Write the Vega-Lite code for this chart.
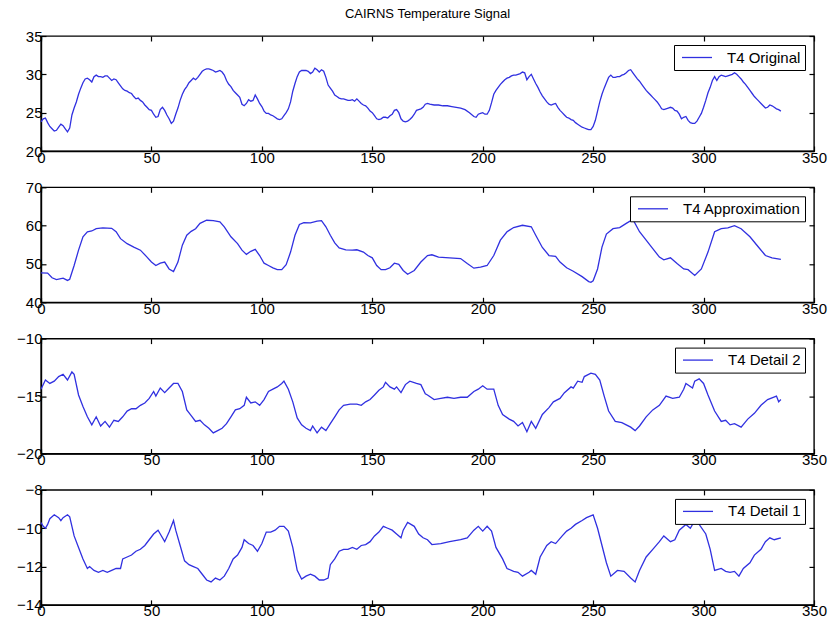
{
"$schema": "https://vega.github.io/schema/vega-lite/v6.json",
"background": "white",
"padding": {"left": 15, "top": 7, "right": 10, "bottom": 0},
"spacing": 13.3,
"config": {
  "font": "Liberation Sans",
  "view": {"stroke": "#000", "strokeWidth": 1.4},
  "axis": {"labelFont": "Liberation Sans", "labelFontSize": 15, "labelColor": "#000", "domainColor": "#000", "domainWidth": 1.4, "tickColor": "#000", "tickSize": -5, "tickWidth": 1.2, "grid": false, "labelPadding": 4, "labelFlush": false, "labelOverlap": false, "title": null},
  "legend": {"labelFont": "Liberation Sans", "labelFontSize": 15, "labelColor": "#000", "strokeColor": "#000", "fillColor": "white", "padding": 4, "offset": 9, "symbolType": "M-2,0H2", "symbolSize": 225, "symbolOffset": 10.5, "symbolStrokeWidth": 1.4, "labelOffset": 21.5, "orient": "top-right", "title": null},
  "line": {"strokeWidth": 1.3}
},
"resolve": {"scale": {"color": "independent", "y": "independent"}},
"datasets": {
"orig": [{"t":0,"v":23.8},{"t":1,"v":24.2},{"t":2,"v":24.3},{"t":3,"v":23.7},{"t":4,"v":23.2},{"t":5,"v":22.9},{"t":6,"v":22.6},{"t":7,"v":22.7},{"t":8,"v":23.1},{"t":9,"v":23.5},{"t":10,"v":23.3},{"t":11,"v":22.9},{"t":12,"v":22.5},{"t":13,"v":23.0},{"t":14,"v":24.7},{"t":15,"v":25.6},{"t":16,"v":26.4},{"t":17,"v":27.4},{"t":18,"v":28.2},{"t":19,"v":28.9},{"t":20,"v":29.4},{"t":21,"v":29.5},{"t":22,"v":29.3},{"t":23,"v":29.0},{"t":24,"v":29.7},{"t":25,"v":29.9},{"t":26,"v":29.7},{"t":27,"v":29.7},{"t":28,"v":29.6},{"t":29,"v":29.8},{"t":30,"v":29.8},{"t":31,"v":29.5},{"t":32,"v":29.2},{"t":33,"v":29.4},{"t":34,"v":29.3},{"t":35,"v":28.9},{"t":36,"v":28.5},{"t":37,"v":28.1},{"t":38,"v":27.9},{"t":39,"v":27.8},{"t":40,"v":27.6},{"t":41,"v":27.5},{"t":42,"v":27.1},{"t":43,"v":26.8},{"t":44,"v":26.9},{"t":45,"v":26.6},{"t":46,"v":26.4},{"t":47,"v":26.0},{"t":48,"v":25.7},{"t":49,"v":25.4},{"t":50,"v":25.3},{"t":51,"v":24.8},{"t":52,"v":24.4},{"t":53,"v":24.5},{"t":54,"v":25.4},{"t":55,"v":25.7},{"t":56,"v":25.3},{"t":57,"v":24.7},{"t":58,"v":24.2},{"t":59,"v":23.6},{"t":60,"v":23.9},{"t":61,"v":24.8},{"t":62,"v":25.6},{"t":63,"v":26.6},{"t":64,"v":27.4},{"t":65,"v":28.0},{"t":66,"v":28.4},{"t":67,"v":28.9},{"t":68,"v":29.2},{"t":69,"v":29.5},{"t":70,"v":29.3},{"t":71,"v":29.6},{"t":72,"v":30.0},{"t":73,"v":30.4},{"t":74,"v":30.6},{"t":75,"v":30.7},{"t":76,"v":30.7},{"t":77,"v":30.6},{"t":78,"v":30.5},{"t":79,"v":30.3},{"t":80,"v":30.4},{"t":81,"v":30.5},{"t":82,"v":30.3},{"t":83,"v":29.9},{"t":84,"v":29.2},{"t":85,"v":28.7},{"t":86,"v":28.4},{"t":87,"v":27.9},{"t":88,"v":27.6},{"t":89,"v":27.3},{"t":90,"v":27.0},{"t":91,"v":26.1},{"t":92,"v":25.9},{"t":93,"v":26.2},{"t":94,"v":26.7},{"t":95,"v":26.5},{"t":96,"v":26.6},{"t":97,"v":27.3},{"t":98,"v":26.8},{"t":99,"v":26.2},{"t":100,"v":25.8},{"t":101,"v":25.2},{"t":102,"v":24.9},{"t":103,"v":24.9},{"t":104,"v":24.7},{"t":105,"v":24.6},{"t":106,"v":24.4},{"t":107,"v":24.2},{"t":108,"v":24.1},{"t":109,"v":24.2},{"t":110,"v":24.6},{"t":111,"v":25.0},{"t":112,"v":25.5},{"t":113,"v":26.4},{"t":114,"v":27.8},{"t":115,"v":28.8},{"t":116,"v":29.7},{"t":117,"v":30.3},{"t":118,"v":30.5},{"t":119,"v":30.5},{"t":120,"v":30.5},{"t":121,"v":30.4},{"t":122,"v":30.1},{"t":123,"v":30.3},{"t":124,"v":30.8},{"t":125,"v":30.6},{"t":126,"v":30.3},{"t":127,"v":30.6},{"t":128,"v":30.4},{"t":129,"v":29.6},{"t":130,"v":28.6},{"t":131,"v":28.2},{"t":132,"v":27.8},{"t":133,"v":27.3},{"t":134,"v":27.1},{"t":135,"v":26.9},{"t":136,"v":26.8},{"t":137,"v":26.8},{"t":138,"v":26.7},{"t":139,"v":26.6},{"t":140,"v":26.6},{"t":141,"v":26.7},{"t":142,"v":26.5},{"t":143,"v":26.8},{"t":144,"v":26.5},{"t":145,"v":26.2},{"t":146,"v":26.0},{"t":147,"v":25.9},{"t":148,"v":25.6},{"t":149,"v":25.2},{"t":150,"v":25.0},{"t":151,"v":24.6},{"t":152,"v":24.2},{"t":153,"v":24.1},{"t":154,"v":24.2},{"t":155,"v":24.4},{"t":156,"v":24.4},{"t":157,"v":24.3},{"t":158,"v":24.6},{"t":159,"v":24.8},{"t":160,"v":25.3},{"t":161,"v":25.4},{"t":162,"v":25.0},{"t":163,"v":24.2},{"t":164,"v":23.9},{"t":165,"v":23.8},{"t":166,"v":23.9},{"t":167,"v":24.1},{"t":168,"v":24.4},{"t":169,"v":24.8},{"t":170,"v":25.3},{"t":171,"v":25.4},{"t":172,"v":25.5},{"t":173,"v":25.7},{"t":174,"v":26.1},{"t":175,"v":26.2},{"t":176,"v":26.1},{"t":178,"v":26.0},{"t":180,"v":26.0},{"t":182,"v":25.9},{"t":184,"v":25.9},{"t":186,"v":25.8},{"t":188,"v":25.7},{"t":190,"v":25.6},{"t":192,"v":25.4},{"t":194,"v":25.0},{"t":196,"v":24.5},{"t":197,"v":24.4},{"t":198,"v":24.8},{"t":199,"v":24.9},{"t":200,"v":25.0},{"t":201,"v":24.8},{"t":202,"v":24.8},{"t":203,"v":25.3},{"t":204,"v":26.3},{"t":205,"v":27.4},{"t":206,"v":27.9},{"t":207,"v":28.3},{"t":208,"v":28.7},{"t":209,"v":29.0},{"t":210,"v":29.3},{"t":211,"v":29.5},{"t":212,"v":29.6},{"t":213,"v":29.8},{"t":214,"v":29.9},{"t":215,"v":29.9},{"t":216,"v":30.0},{"t":217,"v":30.1},{"t":218,"v":30.3},{"t":219,"v":30.2},{"t":220,"v":29.3},{"t":221,"v":29.7},{"t":222,"v":30.0},{"t":223,"v":29.4},{"t":224,"v":28.8},{"t":225,"v":28.3},{"t":226,"v":27.7},{"t":227,"v":27.2},{"t":228,"v":26.8},{"t":229,"v":26.4},{"t":230,"v":26.1},{"t":231,"v":26.0},{"t":232,"v":26.1},{"t":233,"v":26.2},{"t":234,"v":25.7},{"t":235,"v":25.3},{"t":236,"v":25.0},{"t":237,"v":24.7},{"t":238,"v":24.4},{"t":239,"v":24.3},{"t":240,"v":24.1},{"t":241,"v":24.0},{"t":242,"v":23.7},{"t":243,"v":23.5},{"t":244,"v":23.3},{"t":245,"v":23.1},{"t":246,"v":23.0},{"t":247,"v":22.9},{"t":248,"v":22.8},{"t":249,"v":22.8},{"t":250,"v":23.2},{"t":251,"v":24.0},{"t":252,"v":25.2},{"t":253,"v":26.4},{"t":254,"v":27.4},{"t":255,"v":28.2},{"t":256,"v":28.9},{"t":257,"v":29.6},{"t":258,"v":29.9},{"t":259,"v":29.6},{"t":260,"v":29.6},{"t":261,"v":29.7},{"t":262,"v":29.7},{"t":263,"v":29.9},{"t":264,"v":30.0},{"t":265,"v":30.2},{"t":266,"v":30.5},{"t":267,"v":30.6},{"t":268,"v":30.2},{"t":269,"v":29.8},{"t":270,"v":29.4},{"t":271,"v":29.1},{"t":272,"v":28.7},{"t":273,"v":28.3},{"t":274,"v":27.9},{"t":275,"v":27.6},{"t":276,"v":27.3},{"t":277,"v":27.0},{"t":278,"v":26.7},{"t":279,"v":26.4},{"t":280,"v":26.0},{"t":281,"v":25.5},{"t":282,"v":25.4},{"t":283,"v":25.5},{"t":284,"v":25.6},{"t":285,"v":25.7},{"t":286,"v":25.6},{"t":287,"v":25.3},{"t":288,"v":25.2},{"t":289,"v":24.8},{"t":290,"v":24.2},{"t":291,"v":24.4},{"t":292,"v":24.5},{"t":293,"v":24.0},{"t":294,"v":23.7},{"t":295,"v":23.6},{"t":296,"v":23.6},{"t":297,"v":23.9},{"t":298,"v":24.4},{"t":299,"v":24.9},{"t":300,"v":25.7},{"t":301,"v":26.6},{"t":302,"v":27.6},{"t":303,"v":28.3},{"t":304,"v":29.2},{"t":305,"v":29.7},{"t":306,"v":29.2},{"t":307,"v":29.7},{"t":308,"v":29.9},{"t":309,"v":29.8},{"t":310,"v":29.7},{"t":311,"v":29.8},{"t":312,"v":29.9},{"t":313,"v":30.0},{"t":314,"v":30.2},{"t":315,"v":30.0},{"t":316,"v":29.7},{"t":317,"v":29.4},{"t":318,"v":29.0},{"t":319,"v":28.7},{"t":320,"v":28.3},{"t":321,"v":27.9},{"t":322,"v":27.5},{"t":323,"v":27.1},{"t":324,"v":26.8},{"t":325,"v":26.5},{"t":326,"v":26.2},{"t":327,"v":25.9},{"t":328,"v":25.6},{"t":329,"v":25.7},{"t":330,"v":26.0},{"t":331,"v":25.9},{"t":332,"v":25.7},{"t":333,"v":25.5},{"t":334,"v":25.4},{"t":335,"v":25.2}],
"appr": [{"t":0,"v":47.7},{"t":3,"v":47.6},{"t":5,"v":46.4},{"t":7,"v":45.9},{"t":10,"v":46.3},{"t":12,"v":45.7},{"t":13,"v":46.0},{"t":15,"v":49.6},{"t":17,"v":53.6},{"t":19,"v":57.1},{"t":21,"v":58.4},{"t":23,"v":58.6},{"t":25,"v":59.2},{"t":28,"v":59.4},{"t":32,"v":59.3},{"t":34,"v":58.4},{"t":36,"v":56.6},{"t":39,"v":55.3},{"t":42,"v":54.4},{"t":45,"v":53.6},{"t":48,"v":51.8},{"t":50,"v":50.5},{"t":52,"v":49.6},{"t":54,"v":50.2},{"t":56,"v":50.5},{"t":58,"v":48.7},{"t":60,"v":48.0},{"t":62,"v":50.5},{"t":64,"v":54.9},{"t":66,"v":57.5},{"t":68,"v":58.5},{"t":70,"v":59.2},{"t":72,"v":60.6},{"t":75,"v":61.4},{"t":78,"v":61.3},{"t":81,"v":61.0},{"t":83,"v":59.7},{"t":86,"v":57.1},{"t":89,"v":55.3},{"t":91,"v":53.6},{"t":93,"v":52.5},{"t":95,"v":53.3},{"t":97,"v":53.8},{"t":99,"v":52.2},{"t":101,"v":50.2},{"t":103,"v":49.6},{"t":105,"v":49.0},{"t":107,"v":48.5},{"t":109,"v":48.5},{"t":111,"v":49.8},{"t":113,"v":53.1},{"t":115,"v":57.5},{"t":117,"v":60.3},{"t":119,"v":60.8},{"t":122,"v":60.7},{"t":125,"v":61.2},{"t":127,"v":61.3},{"t":129,"v":59.7},{"t":131,"v":57.5},{"t":133,"v":55.5},{"t":135,"v":54.2},{"t":138,"v":53.7},{"t":141,"v":53.6},{"t":143,"v":53.7},{"t":146,"v":53.1},{"t":148,"v":52.2},{"t":150,"v":51.6},{"t":152,"v":49.6},{"t":154,"v":48.5},{"t":156,"v":48.5},{"t":158,"v":49.0},{"t":160,"v":50.2},{"t":162,"v":49.9},{"t":164,"v":48.3},{"t":166,"v":47.3},{"t":169,"v":48.3},{"t":172,"v":50.5},{"t":175,"v":52.2},{"t":177,"v":52.4},{"t":180,"v":51.8},{"t":185,"v":51.6},{"t":190,"v":51.4},{"t":193,"v":50.1},{"t":196,"v":48.9},{"t":199,"v":49.2},{"t":202,"v":49.6},{"t":205,"v":52.2},{"t":208,"v":56.2},{"t":211,"v":58.4},{"t":214,"v":59.5},{"t":218,"v":60.1},{"t":222,"v":59.7},{"t":224,"v":57.5},{"t":227,"v":54.3},{"t":230,"v":52.2},{"t":233,"v":52.0},{"t":235,"v":50.5},{"t":238,"v":49.0},{"t":241,"v":48.1},{"t":245,"v":46.7},{"t":248,"v":45.4},{"t":249,"v":45.2},{"t":250,"v":45.6},{"t":252,"v":48.7},{"t":254,"v":54.4},{"t":256,"v":57.8},{"t":259,"v":59.2},{"t":262,"v":59.5},{"t":265,"v":60.6},{"t":268,"v":61.6},{"t":271,"v":58.4},{"t":274,"v":56.2},{"t":277,"v":54.0},{"t":280,"v":51.8},{"t":282,"v":51.1},{"t":285,"v":51.6},{"t":288,"v":50.1},{"t":291,"v":48.7},{"t":293,"v":48.5},{"t":296,"v":47.0},{"t":299,"v":48.7},{"t":302,"v":53.1},{"t":305,"v":58.4},{"t":308,"v":59.2},{"t":311,"v":59.4},{"t":314,"v":60.0},{"t":317,"v":59.2},{"t":321,"v":57.1},{"t":325,"v":54.3},{"t":328,"v":52.2},{"t":331,"v":51.6},{"t":335,"v":51.2}],
"d2": [{"t":0,"v":-14.4},{"t":2,"v":-13.6},{"t":4,"v":-13.9},{"t":6,"v":-13.7},{"t":8,"v":-13.3},{"t":10,"v":-13.1},{"t":12,"v":-13.6},{"t":14,"v":-12.9},{"t":15,"v":-13.1},{"t":17,"v":-14.9},{"t":19,"v":-15.9},{"t":21,"v":-16.8},{"t":23,"v":-17.5},{"t":25,"v":-16.8},{"t":27,"v":-17.6},{"t":29,"v":-17.2},{"t":31,"v":-17.7},{"t":33,"v":-17.1},{"t":35,"v":-17.2},{"t":37,"v":-16.8},{"t":39,"v":-16.3},{"t":41,"v":-16.1},{"t":43,"v":-16.1},{"t":45,"v":-15.8},{"t":47,"v":-15.6},{"t":49,"v":-15.2},{"t":51,"v":-14.6},{"t":52,"v":-15.0},{"t":54,"v":-14.3},{"t":56,"v":-14.7},{"t":58,"v":-14.3},{"t":60,"v":-13.9},{"t":62,"v":-13.9},{"t":64,"v":-14.6},{"t":66,"v":-16.2},{"t":68,"v":-16.7},{"t":70,"v":-17.2},{"t":72,"v":-17.1},{"t":74,"v":-17.5},{"t":76,"v":-17.8},{"t":78,"v":-18.2},{"t":80,"v":-18.0},{"t":82,"v":-17.8},{"t":84,"v":-17.4},{"t":86,"v":-16.8},{"t":88,"v":-16.2},{"t":90,"v":-16.1},{"t":92,"v":-15.8},{"t":93,"v":-15.1},{"t":95,"v":-15.6},{"t":97,"v":-15.5},{"t":99,"v":-15.8},{"t":101,"v":-15.3},{"t":103,"v":-14.6},{"t":105,"v":-14.4},{"t":107,"v":-14.2},{"t":109,"v":-13.9},{"t":110,"v":-13.7},{"t":112,"v":-14.4},{"t":114,"v":-15.5},{"t":116,"v":-16.9},{"t":118,"v":-17.5},{"t":120,"v":-17.8},{"t":122,"v":-18.0},{"t":123,"v":-17.6},{"t":125,"v":-18.2},{"t":127,"v":-17.7},{"t":129,"v":-18.0},{"t":131,"v":-17.4},{"t":133,"v":-16.8},{"t":135,"v":-16.2},{"t":137,"v":-15.8},{"t":140,"v":-15.7},{"t":143,"v":-15.7},{"t":145,"v":-15.8},{"t":147,"v":-15.5},{"t":149,"v":-15.3},{"t":151,"v":-14.9},{"t":153,"v":-14.5},{"t":155,"v":-14.2},{"t":156,"v":-13.8},{"t":158,"v":-14.2},{"t":160,"v":-14.4},{"t":161,"v":-14.2},{"t":163,"v":-14.7},{"t":165,"v":-14.0},{"t":167,"v":-13.7},{"t":170,"v":-13.9},{"t":172,"v":-14.0},{"t":174,"v":-14.8},{"t":175,"v":-14.9},{"t":178,"v":-15.3},{"t":181,"v":-15.2},{"t":184,"v":-15.1},{"t":187,"v":-15.2},{"t":190,"v":-15.1},{"t":193,"v":-15.1},{"t":196,"v":-14.6},{"t":198,"v":-14.4},{"t":200,"v":-14.1},{"t":202,"v":-14.4},{"t":205,"v":-14.4},{"t":207,"v":-15.8},{"t":209,"v":-16.6},{"t":212,"v":-17.0},{"t":214,"v":-17.2},{"t":216,"v":-17.6},{"t":218,"v":-17.3},{"t":220,"v":-18.1},{"t":222,"v":-17.2},{"t":224,"v":-17.8},{"t":227,"v":-16.6},{"t":230,"v":-16.0},{"t":232,"v":-15.5},{"t":235,"v":-15.2},{"t":237,"v":-14.7},{"t":240,"v":-14.2},{"t":241,"v":-14.3},{"t":243,"v":-13.7},{"t":245,"v":-13.8},{"t":246,"v":-13.3},{"t":249,"v":-13.0},{"t":251,"v":-13.1},{"t":253,"v":-13.6},{"t":255,"v":-15.0},{"t":257,"v":-16.3},{"t":260,"v":-17.2},{"t":263,"v":-17.3},{"t":267,"v":-17.7},{"t":269,"v":-18.0},{"t":271,"v":-17.6},{"t":274,"v":-16.8},{"t":277,"v":-16.2},{"t":280,"v":-15.8},{"t":283,"v":-15.0},{"t":286,"v":-15.2},{"t":289,"v":-15.1},{"t":291,"v":-14.4},{"t":292,"v":-13.9},{"t":295,"v":-14.3},{"t":296,"v":-13.7},{"t":298,"v":-13.5},{"t":300,"v":-13.9},{"t":302,"v":-14.9},{"t":305,"v":-16.3},{"t":308,"v":-17.2},{"t":310,"v":-17.1},{"t":312,"v":-17.5},{"t":314,"v":-17.4},{"t":317,"v":-17.7},{"t":320,"v":-17.0},{"t":323,"v":-16.5},{"t":326,"v":-15.8},{"t":329,"v":-15.3},{"t":333,"v":-15.0},{"t":334,"v":-15.5},{"t":335,"v":-15.3}],
"d1": [{"t":0,"v":-9.7},{"t":1,"v":-9.9},{"t":2,"v":-10.0},{"t":3,"v":-9.8},{"t":4,"v":-9.5},{"t":6,"v":-9.3},{"t":8,"v":-9.45},{"t":9,"v":-9.6},{"t":10,"v":-9.45},{"t":12,"v":-9.3},{"t":13,"v":-9.4},{"t":15,"v":-10.4},{"t":17,"v":-11.0},{"t":19,"v":-11.6},{"t":21,"v":-12.1},{"t":22,"v":-12.0},{"t":24,"v":-12.2},{"t":26,"v":-12.3},{"t":28,"v":-12.2},{"t":30,"v":-12.3},{"t":32,"v":-12.2},{"t":34,"v":-12.1},{"t":36,"v":-12.1},{"t":37,"v":-11.6},{"t":39,"v":-11.5},{"t":41,"v":-11.4},{"t":43,"v":-11.2},{"t":45,"v":-11.1},{"t":47,"v":-10.9},{"t":49,"v":-10.6},{"t":51,"v":-10.3},{"t":53,"v":-10.1},{"t":54,"v":-10.3},{"t":56,"v":-10.7},{"t":58,"v":-10.2},{"t":60,"v":-9.6},{"t":61,"v":-10.1},{"t":63,"v":-10.9},{"t":65,"v":-11.7},{"t":67,"v":-11.9},{"t":69,"v":-12.0},{"t":71,"v":-12.1},{"t":73,"v":-12.4},{"t":75,"v":-12.7},{"t":77,"v":-12.8},{"t":79,"v":-12.6},{"t":81,"v":-12.7},{"t":83,"v":-12.5},{"t":85,"v":-12.1},{"t":87,"v":-11.6},{"t":89,"v":-11.4},{"t":91,"v":-11.0},{"t":92,"v":-10.6},{"t":94,"v":-10.8},{"t":96,"v":-10.9},{"t":98,"v":-11.2},{"t":100,"v":-10.8},{"t":102,"v":-10.2},{"t":104,"v":-10.2},{"t":106,"v":-10.1},{"t":108,"v":-9.9},{"t":110,"v":-9.9},{"t":112,"v":-10.15},{"t":114,"v":-11.0},{"t":116,"v":-12.2},{"t":118,"v":-12.65},{"t":120,"v":-12.5},{"t":122,"v":-12.4},{"t":124,"v":-12.5},{"t":126,"v":-12.7},{"t":128,"v":-12.7},{"t":130,"v":-12.6},{"t":131,"v":-11.9},{"t":133,"v":-11.6},{"t":135,"v":-11.2},{"t":137,"v":-11.1},{"t":139,"v":-11.1},{"t":141,"v":-11.0},{"t":143,"v":-11.1},{"t":145,"v":-10.9},{"t":147,"v":-10.85},{"t":149,"v":-10.7},{"t":151,"v":-10.4},{"t":153,"v":-10.2},{"t":155,"v":-9.9},{"t":157,"v":-10.0},{"t":159,"v":-10.1},{"t":161,"v":-10.3},{"t":163,"v":-10.5},{"t":164,"v":-10.1},{"t":166,"v":-9.7},{"t":169,"v":-9.9},{"t":171,"v":-10.3},{"t":173,"v":-10.5},{"t":175,"v":-10.6},{"t":177,"v":-10.85},{"t":181,"v":-10.8},{"t":185,"v":-10.7},{"t":190,"v":-10.6},{"t":193,"v":-10.5},{"t":196,"v":-10.1},{"t":198,"v":-9.9},{"t":200,"v":-10.15},{"t":202,"v":-9.9},{"t":204,"v":-10.15},{"t":206,"v":-11.0},{"t":209,"v":-11.6},{"t":211,"v":-12.1},{"t":214,"v":-12.25},{"t":216,"v":-12.3},{"t":218,"v":-12.5},{"t":221,"v":-12.3},{"t":222,"v":-12.2},{"t":224,"v":-12.4},{"t":226,"v":-11.5},{"t":229,"v":-10.9},{"t":231,"v":-10.7},{"t":233,"v":-10.8},{"t":236,"v":-10.4},{"t":238,"v":-10.15},{"t":240,"v":-10.0},{"t":242,"v":-9.8},{"t":245,"v":-9.6},{"t":247,"v":-9.45},{"t":250,"v":-9.3},{"t":252,"v":-10.0},{"t":254,"v":-10.9},{"t":256,"v":-11.8},{"t":258,"v":-12.5},{"t":261,"v":-12.2},{"t":264,"v":-12.25},{"t":267,"v":-12.6},{"t":269,"v":-12.8},{"t":271,"v":-12.2},{"t":274,"v":-11.5},{"t":277,"v":-11.1},{"t":280,"v":-10.7},{"t":282,"v":-10.4},{"t":285,"v":-10.7},{"t":287,"v":-10.6},{"t":289,"v":-10.1},{"t":292,"v":-9.8},{"t":294,"v":-10.0},{"t":296,"v":-9.6},{"t":298,"v":-9.8},{"t":301,"v":-10.3},{"t":303,"v":-11.1},{"t":305,"v":-12.2},{"t":308,"v":-12.1},{"t":310,"v":-12.25},{"t":312,"v":-12.3},{"t":314,"v":-12.25},{"t":316,"v":-12.5},{"t":318,"v":-12.1},{"t":321,"v":-11.8},{"t":323,"v":-11.4},{"t":326,"v":-11.1},{"t":328,"v":-10.7},{"t":330,"v":-10.5},{"t":332,"v":-10.6},{"t":335,"v":-10.5}]
},
"vconcat": [
{
  "width": 773, "height": 115,
  "title": {"text": "CAIRNS Temperature Signal", "fontSize": 13, "font": "Liberation Sans", "fontWeight": "normal", "color": "#000", "anchor": "middle", "offset": 8},
  "data": {"name": "orig"},
  "layer": [
    {"mark": {"type": "line"},
     "encoding": {
       "x": {"field": "t", "type": "quantitative", "scale": {"domain": [0, 350], "nice": false, "zero": false}, "axis": {"values": [0, 50, 100, 150, 200, 250, 300, 350]}},
       "y": {"field": "v", "type": "quantitative", "scale": {"domain": [20, 35], "nice": false, "zero": false}, "axis": {"values": [20, 25, 30, 35]}},
       "color": {"datum": "T4 Original", "type": "nominal", "scale": {"range": ["#3030e0"]}}
     }},
    {"mark": {"type": "line", "opacity": 0},
     "encoding": {
       "x": {"field": "t", "type": "quantitative", "axis": {"orient": "top", "values": [0, 50, 100, 150, 200, 250, 300, 350], "labels": false, "domain": false}},
       "y": {"field": "v", "type": "quantitative", "axis": {"orient": "right", "values": [20, 25, 30, 35], "labels": false, "domain": false}}
     }}
  ],
  "resolve": {"axis": {"x": "independent", "y": "independent"}}
},
{
  "width": 773, "height": 115,
  "data": {"name": "appr"},
  "layer": [
    {"mark": {"type": "line"},
     "encoding": {
       "x": {"field": "t", "type": "quantitative", "scale": {"domain": [0, 350], "nice": false, "zero": false}, "axis": {"values": [0, 50, 100, 150, 200, 250, 300, 350]}},
       "y": {"field": "v", "type": "quantitative", "scale": {"domain": [40, 70], "nice": false, "zero": false}, "axis": {"values": [40, 50, 60, 70]}},
       "color": {"datum": "T4 Approximation", "type": "nominal", "scale": {"range": ["#3030e0"]}}
     }},
    {"mark": {"type": "line", "opacity": 0},
     "encoding": {
       "x": {"field": "t", "type": "quantitative", "axis": {"orient": "top", "values": [0, 50, 100, 150, 200, 250, 300, 350], "labels": false, "domain": false}},
       "y": {"field": "v", "type": "quantitative", "axis": {"orient": "right", "values": [40, 50, 60, 70], "labels": false, "domain": false}}
     }}
  ],
  "resolve": {"axis": {"x": "independent", "y": "independent"}}
},
{
  "width": 773, "height": 115,
  "data": {"name": "d2"},
  "layer": [
    {"mark": {"type": "line"},
     "encoding": {
       "x": {"field": "t", "type": "quantitative", "scale": {"domain": [0, 350], "nice": false, "zero": false}, "axis": {"values": [0, 50, 100, 150, 200, 250, 300, 350]}},
       "y": {"field": "v", "type": "quantitative", "scale": {"domain": [-20, -10], "nice": false, "zero": false}, "axis": {"values": [-20, -15, -10]}},
       "color": {"datum": "T4 Detail 2", "type": "nominal", "scale": {"range": ["#3030e0"]}}
     }},
    {"mark": {"type": "line", "opacity": 0},
     "encoding": {
       "x": {"field": "t", "type": "quantitative", "axis": {"orient": "top", "values": [0, 50, 100, 150, 200, 250, 300, 350], "labels": false, "domain": false}},
       "y": {"field": "v", "type": "quantitative", "axis": {"orient": "right", "values": [-20, -15, -10], "labels": false, "domain": false}}
     }}
  ],
  "resolve": {"axis": {"x": "independent", "y": "independent"}}
},
{
  "width": 773, "height": 115,
  "data": {"name": "d1"},
  "layer": [
    {"mark": {"type": "line"},
     "encoding": {
       "x": {"field": "t", "type": "quantitative", "scale": {"domain": [0, 350], "nice": false, "zero": false}, "axis": {"values": [0, 50, 100, 150, 200, 250, 300, 350]}},
       "y": {"field": "v", "type": "quantitative", "scale": {"domain": [-14, -8], "nice": false, "zero": false}, "axis": {"values": [-14, -12, -10, -8]}},
       "color": {"datum": "T4 Detail 1", "type": "nominal", "scale": {"range": ["#3030e0"]}}
     }},
    {"mark": {"type": "line", "opacity": 0},
     "encoding": {
       "x": {"field": "t", "type": "quantitative", "axis": {"orient": "top", "values": [0, 50, 100, 150, 200, 250, 300, 350], "labels": false, "domain": false}},
       "y": {"field": "v", "type": "quantitative", "axis": {"orient": "right", "values": [-14, -12, -10, -8], "labels": false, "domain": false}}
     }}
  ],
  "resolve": {"axis": {"x": "independent", "y": "independent"}}
}
]
}
